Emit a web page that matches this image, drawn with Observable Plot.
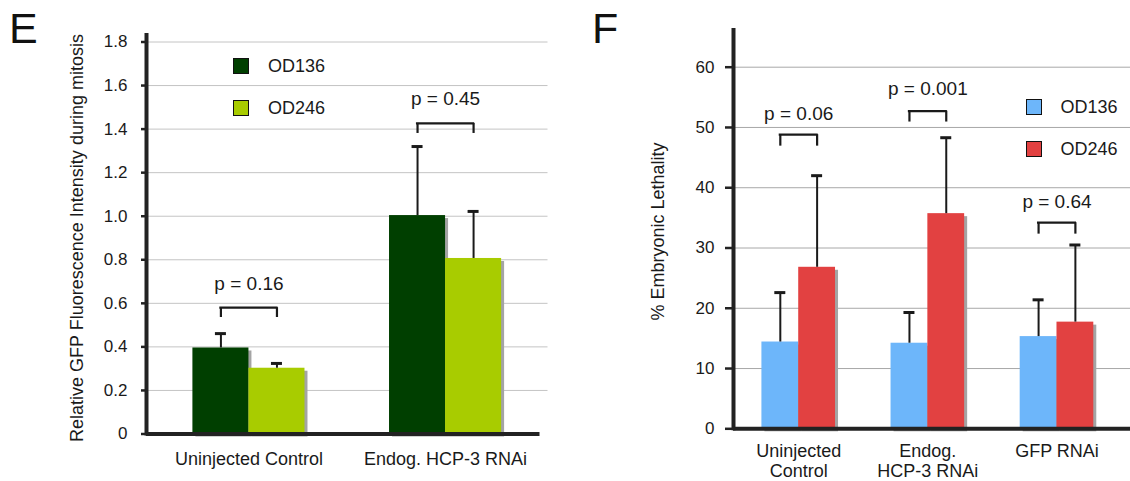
<!DOCTYPE html>
<html><head><meta charset="utf-8">
<script src="https://cdn.jsdelivr.net/npm/d3@7"></script>
<script src="https://cdn.jsdelivr.net/npm/@observablehq/plot@0.6"></script>
<style>
body{margin:0;background:#fff;font-family:"Liberation Sans",Arial,sans-serif;color:#1a1a1a}
#wrap{position:relative;width:1130px;height:481px;overflow:hidden}
.panel{position:absolute;top:0}
.letter{position:absolute;font-size:43px;line-height:43px;color:#111}
.leg{position:absolute;display:flex;align-items:center;font-size:18px;line-height:18px;color:#1a1a1a}
.sw{width:14px;height:14px;border:1.6px solid #111;margin-right:19px}
</style></head><body><div id="wrap"></div>
<script>
// ---------- Panel E data ----------
const eCategories = ["Uninjected Control", "Endog. HCP-3 RNAi"];
const eTickLabelsX = ["Uninjected Control", "Endog. HCP-3 RNAi"];
const eSeries = ["OD136", "OD246"];
const eOD136 = [0.395, 1.003];
const eOD136Err = [0.066, 0.317];
const eOD246 = [0.302, 0.806];
const eOD246Err = [0.022, 0.216];
const ePText = ["p = 0.16", "p = 0.45"];
const ePTextY = [0.689, 1.537];
const eBracketTop = [0.580, 1.426];
const eBracketLow = [0.535, 1.380];
const eYTicks = [0, 0.2, 0.4, 0.6, 0.8, 1.0, 1.2, 1.4, 1.6, 1.8];
const eYLabel = "Relative GFP Fluorescence Intensity during mitosis";

// ---------- Panel F data ----------
const fCategories = ["Uninjected Control", "Endog. HCP-3 RNAi", "GFP RNAi"];
const fTickLabelsX = ["Uninjected\nControl", "Endog.\nHCP-3 RNAi", "GFP RNAi"];
const fSeries = ["OD136", "OD246"];
const fOD136 = [14.4, 14.2, 15.3];
const fOD136Err = [8.2, 5.1, 6.1];
const fOD246 = [26.8, 35.7, 17.7];
const fOD246Err = [15.2, 12.6, 12.8];
const fPText = ["p = 0.06", "p = 0.001", "p = 0.64"];
const fPTextY = [52.3, 56.4, 37.7];
const fBracketTop = [48.8, 52.7, 34.2];
const fBracketLow = [46.9, 50.9, 32.3];
const fYTicks = [0, 10, 20, 30, 40, 50, 60];
const fYLabel = "% Embryonic Lethality";

const INK = "#1a1a1a";

function drawPanel(cfg) {
  const {cats, labels, s1, e1, s2, e2, c1, c2, yMax, axisTop, ticks, fmt,
    width, ml, mr, mt, mb, pi, po, pTexts, pY, bTop, bLow, yLabel, yLabelDx, yLabelDy,
    tickSize, tickPadding, xPad, grid, gridExt, axisExt, lineHeight} = cfg;
  const height = 481;
  const xs = d3.scaleBand().domain(cats).range([ml, width - mr]).paddingInner(pi).paddingOuter(po);
  const B = xs.bandwidth(), h = B / 2, q = B / 4, cap = 11;
  const r1 = cats.map((c, i) => ({c, v: s1[i], t: s1[i] + e1[i]}));
  const r2 = cats.map((c, i) => ({c, v: s2[i], t: s2[i] + e2[i]}));
  const br = cats.map((c, i) => ({c, p: pTexts[i], py: pY[i], top: bTop[i], low: bLow[i]}));
  const axisDx = ml - (xs(cats[0]) + h);
  const shadow = "#a4a4a4";
  return Plot.plot({
    width, height, marginLeft: ml, marginRight: mr, marginTop: mt, marginBottom: mb,
    style: {fontFamily: "'Liberation Sans', Arial, sans-serif", background: "transparent", color: INK, overflow: "visible"},
    x: {type: "band", domain: cats, paddingInner: pi, paddingOuter: po, align: 0.5, round: false},
    y: {domain: [0, yMax]},
    marks: [
      Plot.ruleY(ticks.filter(d => d > 0), {stroke: grid, strokeWidth: 1, insetRight: -gridExt}),
      Plot.barY(r2, {x: "c", y: "v", insetLeft: h, dx: 3, dy: 3, fill: shadow}),
      Plot.barY(r1, {x: "c", y: "v", insetRight: h, dx: 3, dy: 3, fill: shadow}),
      Plot.barY(r1, {x: "c", y: "v", insetRight: h, fill: c1}),
      Plot.barY(r2, {x: "c", y: "v", insetLeft: h, fill: c2}),
      Plot.ruleX(r1, {x: "c", y1: "v", y2: "t", dx: -q, stroke: INK, strokeWidth: 2}),
      Plot.ruleX(r2, {x: "c", y1: "v", y2: "t", dx: q, stroke: INK, strokeWidth: 2}),
      Plot.tickY(r1, {x: "c", y: "t", dx: -q, insetLeft: h - cap / 2, insetRight: h - cap / 2, stroke: INK, strokeWidth: 3}),
      Plot.tickY(r2, {x: "c", y: "t", dx: q, insetLeft: h - cap / 2, insetRight: h - cap / 2, stroke: INK, strokeWidth: 3}),
      Plot.tickY(br, {x: "c", y: "top", insetLeft: q, insetRight: q, stroke: INK, strokeWidth: 2.2, strokeLinecap: "square"}),
      Plot.ruleX(br, {x: "c", y1: "low", y2: "top", dx: -q, stroke: INK, strokeWidth: 2.2}),
      Plot.ruleX(br, {x: "c", y1: "low", y2: "top", dx: q, stroke: INK, strokeWidth: 2.2}),
      Plot.text(br, {x: "c", y: "py", text: "p", fontSize: 19, fill: INK}),
      Plot.ruleY([0], {stroke: "#222", strokeWidth: 4, insetRight: -axisExt}),
      Plot.ruleX([cats[0]], {x: d => d, y1: 0, y2: axisTop, dx: axisDx, stroke: "#222", strokeWidth: 4, strokeLinecap: "square"}),
      Plot.axisY({ticks, tickSize, tickPadding, tickFormat: fmt, fontSize: 17, stroke: "#222", strokeWidth: 2.5, label: null}),
      Plot.axisX({tickSize: 0, tickPadding: xPad, tickFormat: d => labels[cats.indexOf(d)], fontSize: 18, lineHeight, label: null}),
      Plot.text([yLabel], {frameAnchor: "left", textAnchor: "middle", lineAnchor: "middle", text: d => d, rotate: -90, dx: yLabelDx, dy: yLabelDy, fontSize: 18, fill: INK})
    ]
  });
}

const wrap = document.getElementById("wrap");

const eColors = ["#003f00", "#a8cc00"];
const fColors = ["#6db6fa", "#e24141"];

const pe = drawPanel({
  cats: eCategories, labels: eTickLabelsX, s1: eOD136, e1: eOD136Err, s2: eOD246, e2: eOD246Err,
  c1: eColors[0], c2: eColors[1], yMax: 1.8, axisTop: 1.83, ticks: eYTicks,
  fmt: d => d === 0 ? "0" : d.toFixed(1),
  width: 565, ml: 146, mr: 17.5, mt: 41.5, mb: 47.5, pi: 0.43, po: 0.236,
  pTexts: ePText, pY: ePTextY, bTop: eBracketTop, bLow: eBracketLow,
  yLabel: eYLabel, yLabelDx: -69, yLabelDy: 0,
  tickSize: 5, tickPadding: 14, xPad: 17, grid: "#c4c4c4", gridExt: 0, axisExt: -8, lineHeight: 1.1
});
pe.classList.add("panel"); pe.style.left = "0px";
wrap.appendChild(pe);

const pf = drawPanel({
  cats: fCategories, labels: fTickLabelsX, s1: fOD136, e1: fOD136Err, s2: fOD246, e2: fOD246Err,
  c1: fColors[0], c2: fColors[1], yMax: 60, axisTop: 66.1, ticks: fYTicks,
  fmt: d => String(d),
  width: 565, ml: 168, mr: 8.3, mt: 66.7, mb: 52.7, pi: 0.43, po: 0.22,
  pTexts: fPText, pY: fPTextY, bTop: fBracketTop, bLow: fBracketLow,
  yLabel: fYLabel, yLabelDx: -75, yLabelDy: -16.5,
  tickSize: 8, tickPadding: 11, xPad: 14, grid: "#a8a8a8", gridExt: 8.3, axisExt: 8.3, lineHeight: 1.11
});
pf.classList.add("panel"); pf.style.left = "565px";
wrap.appendChild(pf);

function addLetter(txt, left) {
  const d = document.createElement("div");
  d.className = "letter"; d.textContent = txt;
  d.style.left = left + "px"; d.style.top = "7px";
  wrap.appendChild(d);
}
addLetter("E", 9);
addLetter("F", 592);

function addLegend(names, colors, left, tops) {
  names.forEach((n, i) => {
    const item = document.createElement("div");
    item.className = "leg";
    item.style.left = left + "px"; item.style.top = tops[i] + "px";
    const sw = document.createElement("div");
    sw.className = "sw"; sw.style.background = colors[i];
    const t = document.createElement("span"); t.textContent = n;
    item.appendChild(sw); item.appendChild(t);
    wrap.appendChild(item);
  });
}
addLegend(eSeries, eColors, 233, [57, 98.5]);
addLegend(fSeries, fColors, 1025.5, [98, 139.5]);
</script>
</body></html>
